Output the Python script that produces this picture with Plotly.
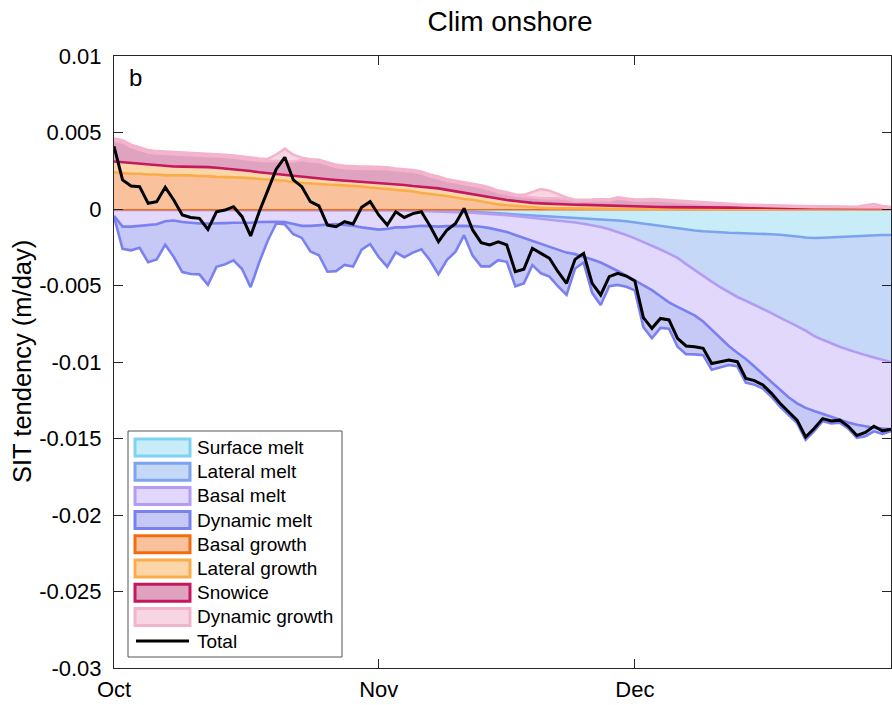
import pandas as pd
import plotly.graph_objects as go

# ---------------- data (mm/day; converted to m/day below) ----------------
DATES = pd.date_range("2000-10-01", "2000-12-31", freq="D")
MM_TO_M = 1e-3

SURFACE_MELT = [0.0] * 38 + [
    -0.05, -0.08, -0.10, -0.12, -0.15, -0.20, -0.25, -0.28, -0.32, -0.35,
    -0.40, -0.42, -0.45, -0.48, -0.50, -0.53, -0.56, -0.60, -0.63, -0.66,
    -0.70, -0.75, -0.80, -0.88, -0.96, -1.05, -1.12, -1.20, -1.28, -1.35,
    -1.40, -1.45, -1.50, -1.52, -1.55, -1.57, -1.58, -1.60, -1.62, -1.65,
    -1.68, -1.72, -1.80, -1.86, -1.90, -1.88, -1.85, -1.82, -1.80, -1.77,
    -1.72, -1.70, -1.70, -1.70]

LATERAL_MELT = [-0.06] * 31 + [
    -0.07, -0.08, -0.09, -0.10, -0.11, -0.12, -0.14,
    -0.11, -0.10, -0.10, -0.10, -0.10, -0.08, -0.07, -0.08, -0.09, -0.11,
    -0.12, -0.16, -0.17, -0.20, -0.24, -0.27, -0.32, -0.37, -0.44, -0.52,
    -0.62, -0.75, -0.90, -1.04, -1.19, -1.35, -1.53, -1.72, -1.92, -2.25,
    -2.60, -2.95, -3.25, -3.58, -3.90, -4.18, -4.42, -4.65, -4.88, -5.15,
    -5.42, -5.63, -5.85, -6.09, -6.40, -6.67, -6.95, -7.18, -7.40, -7.63,
    -7.83, -8.00, -8.15, -8.30]

BASAL_MELT = [
    -0.39, -1.09, -1.09, -1.04, -0.99, -0.94, -0.74, -0.69, -0.79, -0.84,
    -0.89, -0.89, -0.89, -0.86, -0.84, -0.84, -0.84, -0.79, -0.77, -0.77,
    -0.79, -0.89, -1.04, -1.04, -0.99, -0.94, -0.92, -0.99, -1.04, -1.14,
    -1.20, -1.28, -1.22, -1.11, -1.10, -1.04, -0.98, -0.98, -0.99, -0.94,
    -0.90, -0.88, -0.87, -0.88, -0.93, -0.99, -1.09, -1.24, -1.38, -1.52,
    -1.68, -1.82, -1.96, -2.05, -2.07, -2.13, -2.23, -2.32, -2.43, -2.55,
    -2.65, -2.73, -2.80, -2.90, -3.05, -3.18, -3.20, -3.10, -2.95, -2.95,
    -3.15, -3.35, -3.50, -3.65, -3.80, -4.05, -4.30, -4.50, -4.70, -4.95,
    -5.05, -5.05, -4.90, -4.85, -4.80, -4.80, -4.75, -4.70, -4.65, -4.60,
    -4.50, -4.40]

DYNAMIC_MELT = [
    -0.05, -1.45, -1.55, -1.44, -2.43, -2.30, -1.53, -2.39, -3.27, -3.35,
    -3.32, -4.01, -2.83, -2.70, -2.45, -3.02, -4.21, -2.65, -1.24, -0.12,
    -0.15, -0.70, -0.79, -1.67, -1.97, -3.10, -3.08, -2.60, -2.66, -1.46,
    -1.03, -1.79, -2.47, -1.63, -1.95, -1.70, -1.53, -2.23, -3.11, -2.20,
    -1.69, -0.61, -1.93, -2.59, -2.50, -1.99, -1.95, -3.35, -2.96, -1.57,
    -1.90, -1.92, -2.35, -2.76, -0.94, -0.40, -2.18, -2.77, -1.29, -0.91,
    -0.73, -0.67, -2.77, -3.15, -2.07, -1.73, -2.60, -2.79, -2.55, -2.20,
    -2.60, -1.90, -1.25, -0.88, -1.55, -1.18, -0.94, -0.97, -1.11, -1.15,
    -1.29, -2.08, -1.32, -0.47, -0.41, -0.16, -0.40, -0.85, -0.65, -0.23,
    -0.35, -0.12]

BASAL_GROWTH = [
    2.40, 2.35, 2.30, 2.30, 2.25, 2.25, 2.20, 2.20, 2.20, 2.20,
    2.15, 2.15, 2.10, 2.10, 2.07, 2.05, 2.00, 1.98, 1.95, 1.90,
    1.85, 1.75, 1.70, 1.68, 1.65, 1.60, 1.58, 1.55, 1.50, 1.47,
    1.40, 1.35, 1.30, 1.25, 1.20, 1.15, 1.05, 1.00, 0.92, 0.85,
    0.75, 0.65, 0.60, 0.50, 0.40, 0.30, 0.25, 0.20, 0.15, 0.10,
    0.08, 0.06, 0.05, 0.04, 0.03, 0.02, 0.02, 0.01, 0.01, 0.00] + [0.0] * 32

LATERAL_GROWTH = [
    0.70, 0.70, 0.70, 0.65, 0.65, 0.60, 0.60, 0.58, 0.57, 0.57,
    0.62, 0.59, 0.60, 0.55, 0.53, 0.50, 0.48, 0.42, 0.39, 0.38,
    0.37, 0.40, 0.41, 0.38, 0.35, 0.35, 0.32, 0.31, 0.32, 0.31,
    0.35, 0.37, 0.38, 0.38, 0.37, 0.35, 0.40, 0.40, 0.43, 0.40,
    0.40, 0.40, 0.38, 0.38, 0.38, 0.38, 0.34, 0.32, 0.30, 0.30,
    0.29, 0.28, 0.27, 0.26, 0.25, 0.25, 0.23, 0.23, 0.21, 0.20,
    0.18, 0.17, 0.16, 0.15, 0.13, 0.12, 0.11, 0.11, 0.10, 0.10,
    0.10, 0.09, 0.09, 0.09, 0.08, 0.08, 0.08, 0.08, 0.07, 0.07,
    0.07, 0.07, 0.06, 0.06, 0.06, 0.06, 0.06, 0.05, 0.05, 0.05,
    0.05, 0.05]

SNOWICE = [
    1.35, 1.30, 1.05, 0.90, 0.80, 0.78, 0.80, 0.80, 0.81, 0.78,
    0.74, 0.74, 0.75, 0.75, 0.75, 0.72, 0.72, 0.75, 0.78, 0.87,
    0.88, 0.95, 1.09, 1.04, 1.07, 0.95, 0.85, 0.81, 0.81, 0.84,
    0.87, 0.91, 0.92, 0.90, 0.91, 0.93, 0.88, 0.73, 0.65, 0.58,
    0.58, 0.58, 0.58, 0.55, 0.50, 0.40, 0.41, 0.33, 0.37, 0.35,
    0.33, 0.36, 0.38, 0.35, 0.24, 0.25, 0.29, 0.33, 0.32, 0.48,
    0.44, 0.37, 0.38, 0.42, 0.41, 0.38, 0.36, 0.35, 0.32, 0.27,
    0.22, 0.23, 0.19, 0.16, 0.15, 0.13, 0.11, 0.09, 0.09, 0.08,
    0.07, 0.06, 0.06, 0.06, 0.05, 0.05, 0.04, 0.05, 0.05, 0.06,
    0.05, 0.02]

DYNAMIC_GROWTH = ([0.15] * 19 + [0.40, 0.85, 0.45] + [0.15] * 9 + [0.12] * 15
                  + [0.10] * 3 + [0.35, 0.60, 0.50, 0.25, 0.10] + [0.08] * 17
                  + [0.05] * 17 + [0.15, 0.22, 0.10, 0.05])

TOTAL = [
    4.10, 1.90, 1.50, 1.46, 0.37, 0.48, 1.42, 0.59, -0.39, -0.55,
    -0.61, -1.33, -0.18, -0.07, 0.15, -0.50, -1.76, -0.20, 1.20, 2.60,
    3.38, 1.90, 1.46, 0.48, 0.20, -1.05, -1.16, -0.83, -0.98, 0.11,
    0.48, -0.39, -1.05, -0.18, -0.55, -0.30, -0.18, -1.10, -2.14, -1.37,
    -0.94, 0.04, -1.37, -2.20, -2.35, -2.14, -2.35, -4.10, -3.94, -2.57,
    -2.90, -3.22, -4.10, -4.86, -3.29, -2.90, -4.86, -5.62, -4.42, -4.20,
    -4.38, -4.70, -7.10, -7.80, -7.15, -7.25, -8.45, -8.95, -9.00, -9.10,
    -10.10, -9.98, -9.87, -9.98, -11.07, -11.22, -11.50, -12.05, -12.70, -13.25,
    -13.80, -14.90, -14.35, -13.70, -13.85, -13.80, -14.20, -14.80, -14.60, -14.20,
    -14.50, -14.40]

BASELINE = 0.0

SERIES_NAMES = ["Surface melt", "Lateral melt", "Basal melt", "Dynamic melt",
                "Basal growth", "Lateral growth", "Snowice", "Dynamic growth"]
SERIES_VALUES = [SURFACE_MELT, LATERAL_MELT, BASAL_MELT, DYNAMIC_MELT,
                 BASAL_GROWTH, LATERAL_GROWTH, SNOWICE, DYNAMIC_GROWTH]

X_TICKS = ["2000-10-01", "2000-11-01", "2000-12-01"]
X_TICK_LABELS = ["Oct", "Nov", "Dec"]
Y_TICKS = [0.01, 0.005, 0.0, -0.005, -0.01, -0.015, -0.02, -0.025, -0.03]
Y_TICK_LABELS = ["0.01", "0.005", "0", "-0.005", "-0.01", "-0.015", "-0.02", "-0.025", "-0.03"]

# ---------------- style ----------------
EDGE = ["#7DD3F0", "#7BA3EE", "#B39CF4", "#7B80F0",
        "#F26D12", "#F9AD4A", "#C4195E", "#F4B3CC"]
FILL = ["#C9ECF9", "#C6D8F7", "#E2D8FC", "#C6C9F6",
        "#F9C29C", "#FCD6A8", "#DFA2BF", "#F8D5E3"]
# boundary between stacked areas is drawn in the colour of the next area
BOUNDARY = [EDGE[1], EDGE[2], EDGE[3], EDGE[3],
            EDGE[5], EDGE[6], EDGE[7], EDGE[7]]
AXC = "#262626"
FONT = "Liberation Sans, Arial, Helvetica, sans-serif"

W, H = 892, 705
L_M, R_M, T_M, B_M = 114, 1, 56, 37
PW, PH = W - L_M - R_M, H - T_M - B_M


def fx(px):
    return (px - L_M) / PW


def fy(py):
    return (H - B_M - py) / PH


fig = go.Figure()


def scaled(vals):
    return [v * MM_TO_M for v in vals]


# melt areas (stacked downward)
for i in range(4):
    fig.add_trace(go.Scatter(x=DATES, y=scaled(SERIES_VALUES[i]), stackgroup="melt",
                             mode="lines", line=dict(width=0), fillcolor=FILL[i],
                             name=SERIES_NAMES[i], showlegend=False, hoverinfo="skip"))
for i in range(4):
    fig.add_trace(go.Scatter(x=DATES, y=scaled(SERIES_VALUES[i]), stackgroup="melt_edges",
                             fill="none", mode="lines",
                             line=dict(width=2.6, color=BOUNDARY[i]),
                             showlegend=False, hoverinfo="skip"))
# area baseline
fig.add_trace(go.Scatter(x=DATES, y=[BASELINE] * len(DATES), mode="lines",
                         line=dict(width=2.8, color=EDGE[4]),
                         showlegend=False, hoverinfo="skip"))
# growth areas (stacked upward)
for i in range(4, 8):
    fig.add_trace(go.Scatter(x=DATES, y=scaled(SERIES_VALUES[i]), stackgroup="growth",
                             mode="lines", line=dict(width=0), fillcolor=FILL[i],
                             name=SERIES_NAMES[i], showlegend=False, hoverinfo="skip"))
for i in range(4, 8):
    fig.add_trace(go.Scatter(x=DATES, y=scaled(SERIES_VALUES[i]), stackgroup="growth_edges",
                             fill="none", mode="lines",
                             line=dict(width=2.6, color=BOUNDARY[i]),
                             showlegend=False, hoverinfo="skip"))
# total
fig.add_trace(go.Scatter(x=DATES, y=scaled(TOTAL), mode="lines",
                         line=dict(width=3, color="black"), name="Total",
                         showlegend=False, hoverinfo="skip"))

# ---------------- manual legend (MATLAB style) ----------------
shapes = []
annotations = []
LEG_X0, LEG_X1, LEG_Y0, LEG_Y1 = 128, 342, 431, 657
shapes.append(dict(type="rect", xref="paper", yref="paper",
                   x0=fx(LEG_X0), x1=fx(LEG_X1), y0=fy(LEG_Y1), y1=fy(LEG_Y0),
                   fillcolor="white", line=dict(color="#555555", width=1), layer="above"))
ITEM_Y0, ITEM_DY = 447.5, 24.2
for i, name in enumerate(SERIES_NAMES):
    cy = ITEM_Y0 + ITEM_DY * i
    shapes.append(dict(type="rect", xref="paper", yref="paper",
                       x0=fx(135), x1=fx(190), y0=fy(cy + 8.5), y1=fy(cy - 8.5),
                       fillcolor=FILL[i], line=dict(color=EDGE[i], width=3), layer="above"))
    annotations.append(dict(xref="paper", yref="paper", x=fx(195), y=fy(cy),
                            text=name, showarrow=False, xanchor="left", yanchor="middle",
                            font=dict(size=19, color="black", family=FONT)))
cy = ITEM_Y0 + ITEM_DY * 8
shapes.append(dict(type="line", xref="paper", yref="paper",
                   x0=fx(136), x1=fx(189), y0=fy(cy), y1=fy(cy),
                   line=dict(color="black", width=3), layer="above"))
annotations.append(dict(xref="paper", yref="paper", x=fx(195), y=fy(cy),
                        text="Total", showarrow=False, xanchor="left", yanchor="middle",
                        font=dict(size=19, color="black", family=FONT)))

# panel letter
annotations.append(dict(xref="paper", yref="paper", x=fx(127), y=fy(78), text="b",
                        showarrow=False, xanchor="left", yanchor="middle",
                        font=dict(size=24, color="black", family=FONT)))
# y-axis label
annotations.append(dict(xref="paper", yref="paper", x=fx(22), y=0.5,
                        text="SIT tendency (m/day)", textangle=-90, showarrow=False,
                        xanchor="center", yanchor="middle",
                        font=dict(size=25.5, color="black", family=FONT)))

fig.update_layout(
    width=W, height=H,
    margin=dict(l=L_M, r=R_M, t=T_M, b=B_M, pad=0),
    paper_bgcolor="white", plot_bgcolor="white",
    font=dict(family=FONT, color="black"),
    title=dict(text="Clim onshore", x=fx(510), xanchor="center",
               y=1 - 21 / H, yanchor="middle", xref="paper",
               font=dict(size=28, color="black", family=FONT)),
    showlegend=False,
    shapes=shapes,
    annotations=annotations,
)
fig.update_xaxes(
    type="date", range=[DATES[0], DATES[-1]],
    tickmode="array", tickvals=X_TICKS, ticktext=X_TICK_LABELS,
    ticks="inside", ticklen=9, tickwidth=1, tickcolor=AXC,
    showline=True, linecolor=AXC, linewidth=1, mirror="ticks",
    showgrid=False, zeroline=False,
    tickfont=dict(size=22, color="black", family=FONT),
    ticklabelstandoff=2,
)
fig.update_yaxes(
    range=[-0.03, 0.01],
    tickmode="array", tickvals=Y_TICKS, ticktext=Y_TICK_LABELS,
    ticks="inside", ticklen=9, tickwidth=1, tickcolor=AXC,
    showline=True, linecolor=AXC, linewidth=1, mirror="ticks",
    showgrid=False, zeroline=False,
    tickfont=dict(size=22, color="black", family=FONT),
    ticklabelstandoff=7,
)

fig.write_html("out.html")
